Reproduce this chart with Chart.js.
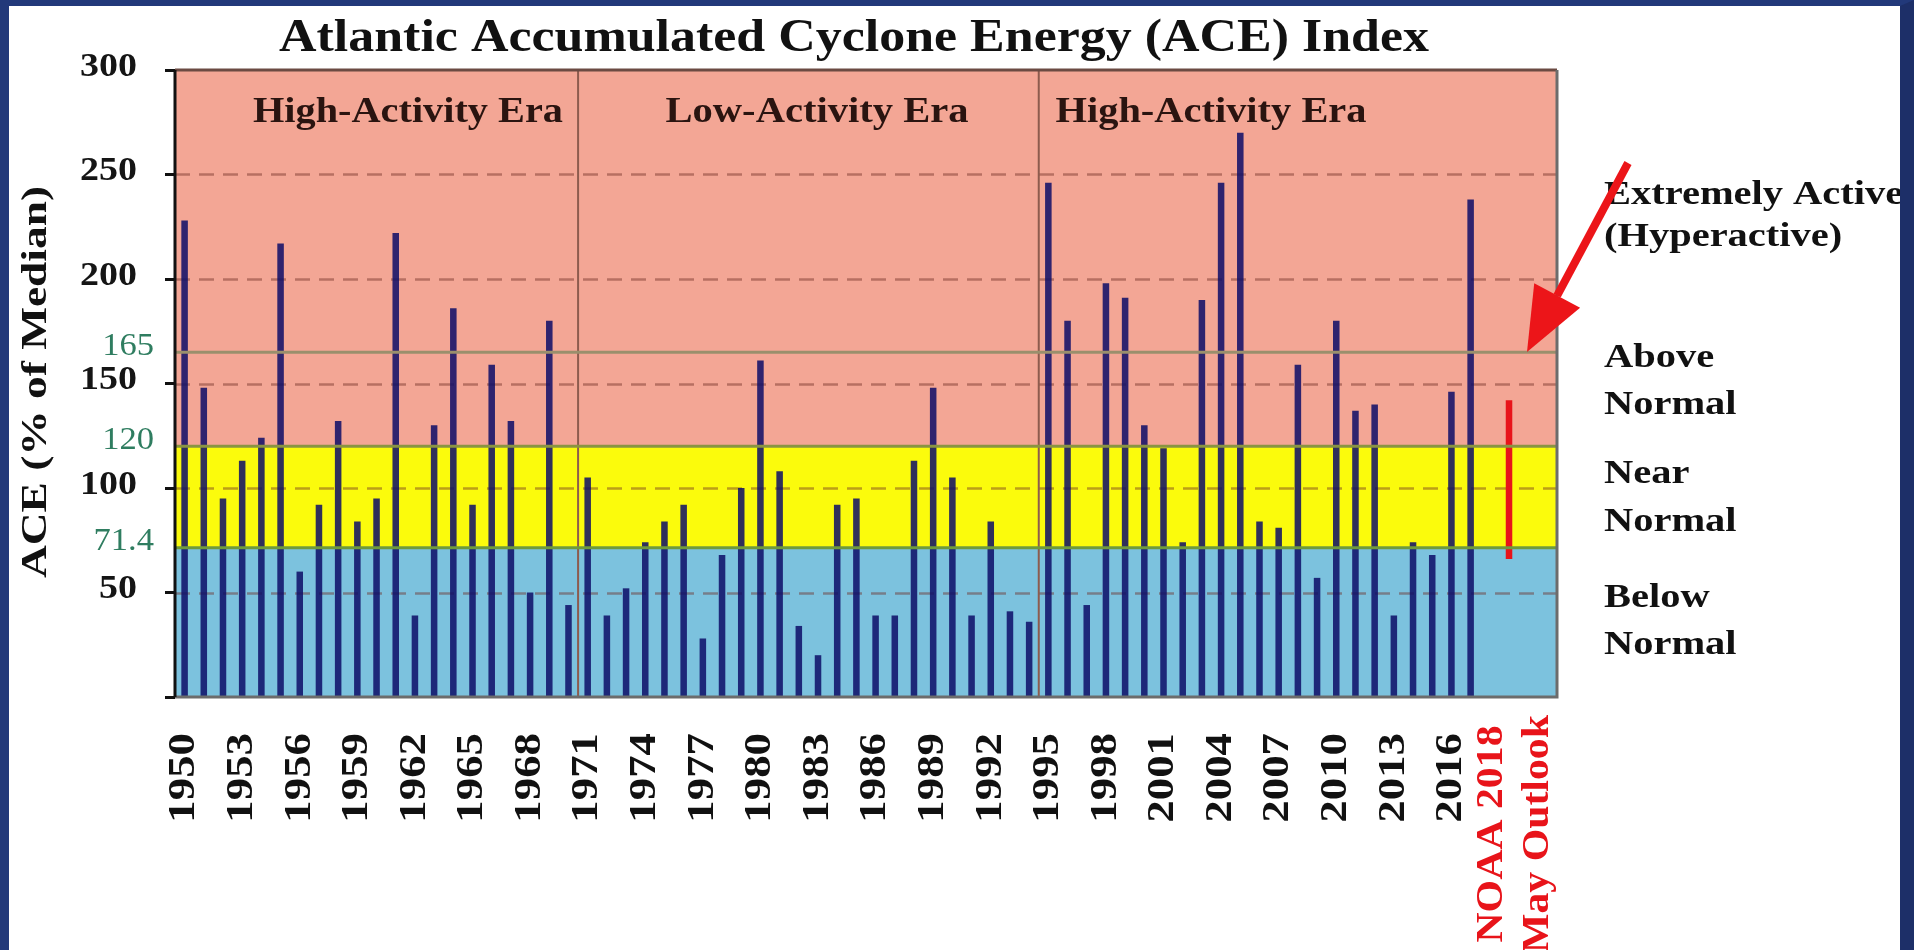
<!DOCTYPE html>
<html>
<head>
<meta charset="utf-8">
<title>Atlantic Accumulated Cyclone Energy (ACE) Index</title>
<script src="https://cdn.jsdelivr.net/npm/chart.js@4.4.1/dist/chart.umd.min.js"></script>
<style>
  html, body { margin: 0; padding: 0; }
  body { width: 1914px; height: 950px; overflow: hidden; background: #fff; position: relative; }
  .frame { position: absolute; left: 0; top: 0; width: 1914px; height: 950px; box-sizing: border-box;
           border-left: 9px solid #22397a; border-top: 6px solid #22397a; border-right: 14px solid #1d2f68; z-index: 2; pointer-events: none; }
  #chartBox { position: absolute; left: 0; top: 0; width: 1914px; height: 950px; }
</style>
</head>
<body>
<div class="frame"></div>
<div id="chartBox"><canvas id="aceChart"></canvas></div>
<script>
// ACE as % of median, one bar per season
const years = [
  '1950','1951','1952','1953','1954','1955','1956','1957','1958','1959',
  '1960','1961','1962','1963','1964','1965','1966','1967','1968','1969',
  '1970','1971','1972','1973','1974','1975','1976','1977','1978','1979',
  '1980','1981','1982','1983','1984','1985','1986','1987','1988','1989',
  '1990','1991','1992','1993','1994','1995','1996','1997','1998','1999',
  '2000','2001','2002','2003','2004','2005','2006','2007','2008','2009',
  '2010','2011','2012','2013','2014','2015','2016','2017'
];
const aceValues = [
  228, 148,  95, 113, 124, 217,  60,  92, 132,  84,
   95, 222,  39, 130, 186,  92, 159, 132,  50, 180,
   44, 105,  39,  52,  74,  84,  92,  28,  68, 100,
  161, 108,  34,  20,  92,  95,  39,  39, 113, 148,
  105,  39,  84,  41,  36, 246, 180,  44, 198, 191,
  130, 119,  74, 190, 246, 270,  84,  81, 159,  57,
  180, 137, 140,  39,  74,  68, 146, 238
];
const outlookLabel = ['NOAA 2018', 'May Outlook'];
const outlookRange = [66, 142];

const yTicks = [0, 50, 100, 150, 200, 250, 300];
const bandLines = [71.4, 120, 165];
const eraNames = ['High-Activity Era', 'Low-Activity Era', 'High-Activity Era'];
const eraStarts = ['1971', '1995'];
const categoryNames = [['Extremely Active', '(Hyperactive)'], ['Above', 'Normal'], ['Near', 'Normal'], ['Below', 'Normal']];
const chartTitle = 'Atlantic Accumulated Cyclone Energy (ACE) Index';
const yTitle = 'ACE (% of Median)';

const SERIF = '"Liberation Serif", "Times New Roman", serif';
const RED = '#e8141a';
const labels = [...years, '', outlookLabel, '', ''];
const outlookIndex = labels.indexOf(outlookLabel);
const barData = [...aceValues, null, outlookRange, null, null];

// the slide text is a little wide, so draw it stretched along the line
function wideText(ctx, text, x, y, sx, align, rot) {
  ctx.save();
  ctx.translate(x, y);
  if (rot) ctx.rotate(rot);
  ctx.scale(sx, 1);
  ctx.textAlign = align;
  ctx.textBaseline = 'middle';
  ctx.fillText(text, 0, 0);
  ctx.restore();
}
function fitScale(ctx, text, w) { return w / ctx.measureText(text).width; }

const decor = {
  id: 'decor',
  beforeDatasetsDraw(chart) {
    const { ctx, chartArea: a, scales: { x, y } } = chart;
    ctx.save();
    const bands = [[0, 71.4, '#7cc2de'], [71.4, 120, '#fbfb0c'], [120, 300, '#f3a695']];
    bands.forEach(([lo, hi, c]) => {
      const top = y.getPixelForValue(hi), bot = y.getPixelForValue(lo);
      ctx.fillStyle = c;
      ctx.fillRect(a.left, top, a.right - a.left, bot - top);
    });
    ctx.setLineDash([15, 9]);
    ctx.lineWidth = 2.5;
    ctx.strokeStyle = 'rgba(110,45,35,0.45)';
    yTicks.filter(v => v > 0 && v < 300).forEach(v => {
      const py = Math.round(y.getPixelForValue(v)) + 0.5;
      ctx.beginPath(); ctx.moveTo(a.left, py); ctx.lineTo(a.right, py); ctx.stroke();
    });
    ctx.setLineDash([]);
    ctx.strokeStyle = '#8d5b4e';
    ctx.lineWidth = 2;
    eraStarts.forEach(yr => {
      const i = labels.indexOf(yr);
      const px = (x.getPixelForValue(i - 1) + x.getPixelForValue(i)) / 2;
      ctx.beginPath(); ctx.moveTo(px, a.top); ctx.lineTo(px, a.bottom); ctx.stroke();
    });
    ctx.restore();
  },
  afterDatasetsDraw(chart) {
    const { ctx, chartArea: a, scales: { y } } = chart;
    ctx.save();
    const lineCols = ['#6f9a3c', '#8a9442', '#9a8f6c'];
    bandLines.forEach((v, k) => {
      const py = y.getPixelForValue(v);
      ctx.strokeStyle = lineCols[k];
      ctx.lineWidth = 3;
      ctx.beginPath(); ctx.moveTo(a.left, py); ctx.lineTo(a.right, py); ctx.stroke();
    });
    ctx.lineWidth = 3;
    ctx.strokeStyle = '#6b4a42';
    ctx.beginPath(); ctx.moveTo(a.left, a.top); ctx.lineTo(a.right, a.top); ctx.stroke();
    ctx.strokeStyle = '#6c6c6c';
    ctx.beginPath(); ctx.moveTo(a.right, a.top); ctx.lineTo(a.right, a.bottom); ctx.lineTo(a.left, a.bottom); ctx.stroke();
    ctx.strokeStyle = '#111';
    ctx.beginPath(); ctx.moveTo(a.left, a.top); ctx.lineTo(a.left, a.bottom); ctx.stroke();
    // era names
    ctx.fillStyle = '#2a1410';
    ctx.font = 'bold 35px ' + SERIF;
    [[408, 310], [817, 303], [1211, 311]].forEach(([px, w], k) => {
      wideText(ctx, eraNames[k], px, 113, fitScale(ctx, eraNames[k], w), 'center');
    });
    ctx.restore();
  },
  afterDraw(chart) {
    const { ctx, chartArea: a, scales: { x, y } } = chart;
    ctx.save();
    ctx.fillStyle = '#111';
    // title
    ctx.font = 'bold 46px ' + SERIF;
    wideText(ctx, chartTitle, 854, 39, fitScale(ctx, chartTitle, 1150), 'center');
    // y title
    ctx.font = 'bold 36px ' + SERIF;
    wideText(ctx, yTitle, 37, 382, fitScale(ctx, yTitle, 392), 'center', -Math.PI / 2);
    // y tick labels
    ctx.font = 'bold 33px ' + SERIF;
    ctx.fillStyle = '#151515';
    yTicks.filter(v => v > 0).forEach(v => {
      wideText(ctx, String(v), 137, y.getPixelForValue(v) - 3, 1.15, 'right');
    });
    ctx.font = '32px ' + SERIF;
    ctx.fillStyle = '#2f7d60';
    bandLines.forEach(v => {
      wideText(ctx, String(v), 154, y.getPixelForValue(v) - 6, 1.08, 'right');
    });
    // x tick labels, every third category, rotated
    labels.forEach((lab, i) => {
      if (i % 3 !== 0 || lab === '') return;
      const px = x.getPixelForValue(i);
      ctx.font = 'bold 38px ' + SERIF;
      if (i === outlookIndex) {
        ctx.fillStyle = RED;
        lab.forEach((t, j) => {
          wideText(ctx, t, px + 6 + (j - 0.5) * 46, 834, 1.1, 'center', -Math.PI / 2);
        });
      } else {
        ctx.fillStyle = '#111';
        wideText(ctx, lab, px, a.bottom + 36, 1.18, 'right', -Math.PI / 2);
      }
    });
    // category names on the right
    ctx.fillStyle = '#111';
    ctx.font = 'bold 34px ' + SERIF;
    const rows = [[195, 237], [358, 405], [474, 522], [598, 645]];
    categoryNames.forEach((lines, k) => {
      lines.forEach((t, j) => wideText(ctx, t, 1604, rows[k][j], 1.19, 'left'));
    });
    // red arrow pointing to the outlook
    const x0 = 1628, y0 = 163, x1 = 1527, y1 = 352;
    const ang = Math.atan2(y1 - y0, x1 - x0);
    const hl = 64, hw = 26;
    const bx = x1 - hl * Math.cos(ang), by = y1 - hl * Math.sin(ang);
    ctx.strokeStyle = '#ec1519';
    ctx.fillStyle = '#ec1519';
    ctx.lineWidth = 8;
    ctx.beginPath(); ctx.moveTo(x0, y0); ctx.lineTo(bx, by); ctx.stroke();
    ctx.beginPath();
    ctx.moveTo(x1, y1);
    ctx.lineTo(bx + hw * Math.sin(ang), by - hw * Math.cos(ang));
    ctx.lineTo(bx - hw * Math.sin(ang), by + hw * Math.cos(ang));
    ctx.closePath(); ctx.fill();
    ctx.restore();
  }
};

new Chart(document.getElementById('aceChart'), {
  type: 'bar',
  data: {
    labels: labels,
    datasets: [{
      label: 'ACE (% of Median)',
      data: barData,
      backgroundColor: c => c.dataIndex === outlookIndex ? RED : 'rgba(14,14,104,0.86)',
      barPercentage: 0.34,
      categoryPercentage: 1
    }]
  },
  options: {
    responsive: true,
    maintainAspectRatio: false,
    animation: false,
    layout: { padding: { top: 70, right: 357, bottom: 0, left: 0 } },
    plugins: { legend: { display: false }, tooltip: { enabled: false }, title: { display: false } },
    scales: {
      x: {
        type: 'category',
        offset: true,
        afterFit: s => { s.height = 253; },
        grid: { display: false },
        border: { display: false },
        ticks: { display: false, autoSkip: false }
      },
      y: {
        min: 0,
        max: 300,
        afterBuildTicks: s => { s.ticks = yTicks.map(v => ({ value: v })); },
        afterFit: s => { s.width = 175; },
        grid: {
          drawOnChartArea: false,
          tickLength: 10,
          tickWidth: 3,
          tickColor: '#111'
        },
        border: { display: false },
        ticks: { display: false, autoSkip: false },
        title: { display: false }
      }
    }
  },
  plugins: [decor]
});
</script>
</body>
</html>
